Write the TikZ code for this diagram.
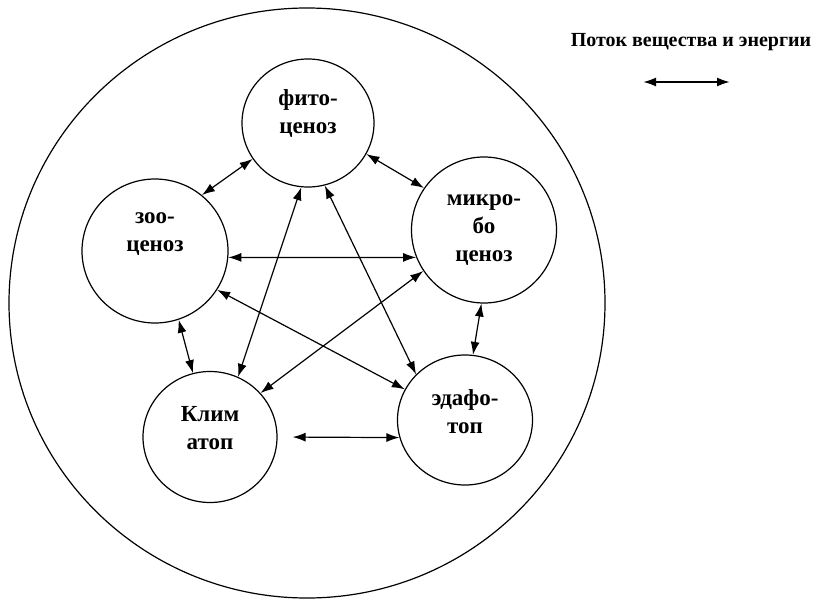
\documentclass[tikz,border=0pt]{standalone}
\usepackage{fontspec}
\setmainfont{Liberation Serif}
\usetikzlibrary{arrows.meta, shapes.geometric}

\begin{document}
\begin{tikzpicture}[
    x=1pt, y=-1pt,
    eco/.style={draw, ellipse, line width=1.2pt, inner sep=0pt},
    txt/.style={font=\fontsize{23}{28}\selectfont\bfseries, align=center, inner sep=0pt},
    flow/.style={{Latex[length=13pt,width=9pt]}-{Latex[length=13pt,width=9pt]}, line width=1.2pt}
]
\useasboundingbox (0,0) rectangle (814,602);

% biogeocenosis
\node[eco, minimum width=596, minimum height=590] (bio) at (307,303) {};

\node[eco, minimum width=132, minimum height=128, label={[txt,yshift=9]center:фито-\\ценоз}] (phyto) at (308,123) {};
\node[eco, minimum width=146, minimum height=144, label={[txt,yshift=17]center:зоо-\\ценоз}] (zoo) at (155,251) {};
\node[eco, minimum width=145, minimum height=146, label={[txt]center:микро-\\бо\\ценоз}] (micro) at (484,230) {};
\node[eco, minimum width=134, minimum height=131, label={[txt,yshift=9]center:Клим\\атоп}] (klim) at (210,437) {};
\node[eco, minimum width=135, minimum height=130, label={[txt,yshift=8]center:эдафо-\\топ}] (edafo) at (465,420) {};

% links
\draw[flow] (phyto.213) -- (zoo.50);
\draw[flow] (phyto.332) -- (micro.145);
\draw[flow] (zoo.355) -- (micro.202);
\draw[flow] (phyto.264) -- (klim.65);
\draw[flow] (phyto.285) -- (edafo.137);
\draw[flow] (zoo.328) -- (edafo.153);
\draw[flow] (micro.214) -- (klim.41);
\draw[flow] (zoo.289) -- (klim.105);
\draw[flow] (micro.268) -- (edafo.83);
\draw[flow, shorten <=15pt] (klim.0) -- (edafo.195);

% legend
\node[font=\fontsize{20}{24}\selectfont\bfseries, inner sep=0pt] (title) at (691,42) {Поток вещества и энергии};
\coordinate (l1) at (643,82);
\coordinate (l2) at (730,82);
\draw[flow, line width=2pt] (l1) -- (l2);
\end{tikzpicture}
\end{document}
